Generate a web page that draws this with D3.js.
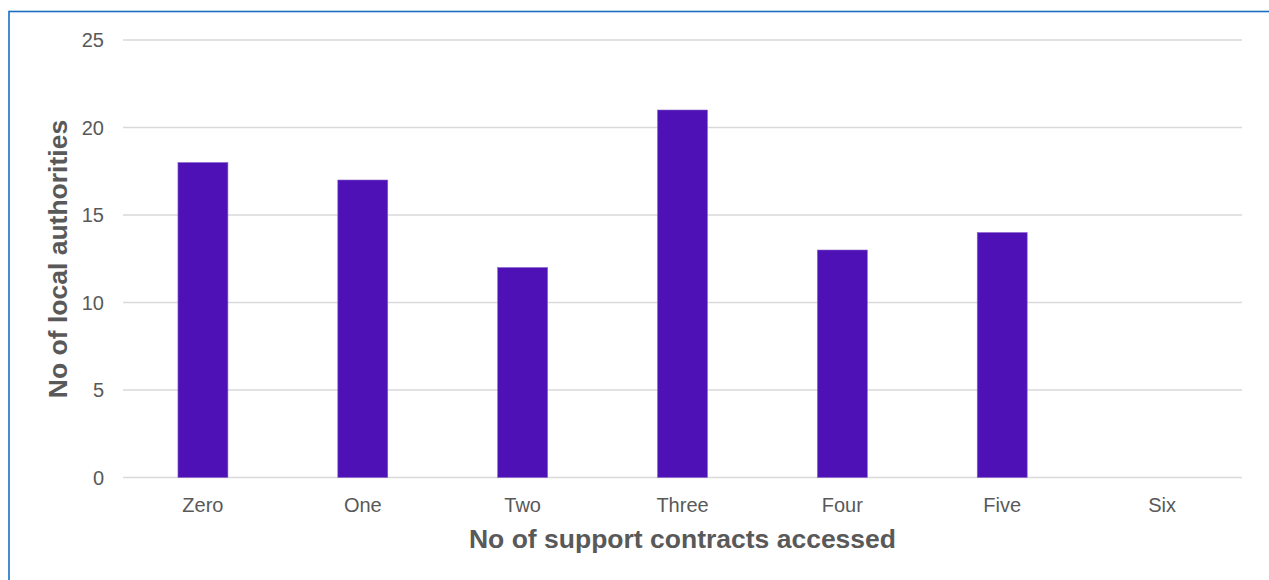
<!DOCTYPE html>
<html>
<head>
<meta charset="utf-8">
<script src="https://cdn.jsdelivr.net/npm/d3@7"></script>
<style>
  html, body { margin: 0; padding: 0; background: #fff; }
  svg { display: block; }
</style>
</head>
<body>
<svg id="chart" width="1269" height="580"></svg>
<script>
const categories = ["Zero", "One", "Two", "Three", "Four", "Five", "Six"];
const values = [18, 17, 12, 21, 13, 14, 0];
const yTicks = [0, 5, 10, 15, 20, 25];
const xTitle = "No of support contracts accessed";
const yTitle = "No of local authorities";

(function () {
const svg = d3.select("#chart");
const plotLeft = 123, plotRight = 1242, plotTop = 40, plotBottom = 477.5;

// outer frame (only top/left visible)
svg.append("rect")
  .attr("x", 9).attr("y", 11.5)
  .attr("width", 1400).attr("height", 700)
  .attr("fill", "none").attr("stroke", "#1b6fc3").attr("stroke-width", 1.6);

const x = d3.scaleBand().domain(categories).range([plotLeft, plotRight]).paddingInner(0).paddingOuter(0);
const y = d3.scaleLinear().domain([0, 25]).range([plotBottom, plotTop]);

// gridlines
svg.append("g").selectAll("line").data(yTicks).join("line")
  .attr("x1", plotLeft).attr("x2", plotRight)
  .attr("y1", d => y(d)).attr("y2", d => y(d))
  .attr("stroke", "#d9d9d9").attr("stroke-width", 1.3);

// y tick labels
svg.append("g").selectAll("text").data(yTicks).join("text")
  .attr("x", 104).attr("y", d => y(d))
  .attr("dy", "0.35em")
  .attr("text-anchor", "end")
  .attr("font-family", "Liberation Sans, Arial, sans-serif")
  .attr("font-size", 20)
  .attr("fill", "#595959")
  .text(d => d);

// bars
const barW = x.bandwidth() * 0.3125;
svg.append("g").selectAll("rect").data(values).join("rect")
  .attr("x", (d, i) => x(categories[i]) + x.bandwidth() / 2 - barW / 2)
  .attr("y", d => y(d))
  .attr("width", barW)
  .attr("height", d => y(0) - y(d))
  .attr("fill", "#4e11b6")
  .attr("stroke", d => d > 0 ? "#8a63cf" : "none")
  .attr("stroke-width", 0.6);

// x category labels
svg.append("g").selectAll("text").data(categories).join("text")
  .attr("x", d => x(d) + x.bandwidth() / 2)
  .attr("y", 512)
  .attr("text-anchor", "middle")
  .attr("font-family", "Liberation Sans, Arial, sans-serif")
  .attr("font-size", 20)
  .attr("fill", "#595959")
  .text(d => d);

// axis titles
svg.append("text")
  .attr("x", 682.5).attr("y", 548)
  .attr("text-anchor", "middle")
  .attr("font-family", "Liberation Sans, Arial, sans-serif")
  .attr("font-size", 26.5).attr("font-weight", "bold")
  .attr("fill", "#595959")
  .text(xTitle);

svg.append("text")
  .attr("transform", "translate(67,259) rotate(-90)")
  .attr("text-anchor", "middle")
  .attr("font-family", "Liberation Sans, Arial, sans-serif")
  .attr("font-size", 26.5).attr("font-weight", "bold")
  .attr("fill", "#595959")
  .text(yTitle);
})();
</script>
</body>
</html>
